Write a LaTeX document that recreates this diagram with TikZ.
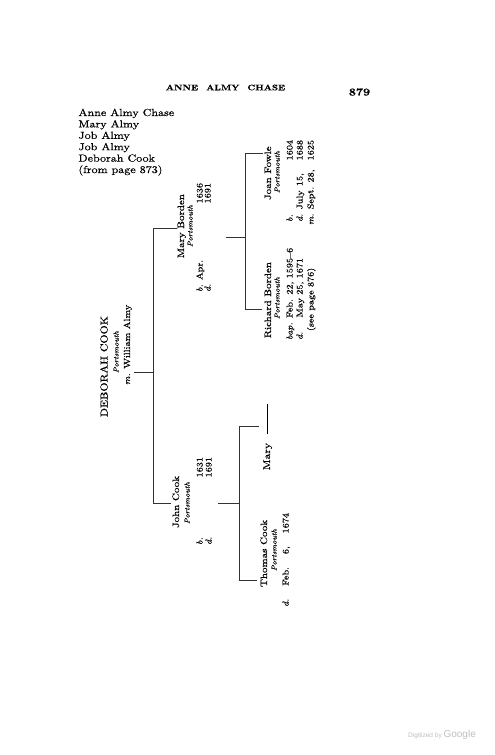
\documentclass[tikz,border=0pt]{standalone}
\usepackage{fontspec}
\setmainfont{lmroman10-regular.otf}[BoldFont=lmroman10-bold.otf, ItalicFont=lmroman10-italic.otf, FakeStretch=1.18, FakeBold=0.5]
\newfontfamily\gfont{Liberation Sans}
\begin{document}
\begin{tikzpicture}[x=1pt,y=-1pt,
  ln/.style={line width=0.65pt, draw=black!80},
  rt/.style={rotate=90, inner sep=0pt, outer sep=0pt, anchor=base west},
  nm/.style={rt, font=\fontsize{9.3}{11}\selectfont},
  pl/.style={rt, font=\fontsize{7}{8}\selectfont\itshape},
  dt/.style={rt, font=\fontsize{8.6}{10}\selectfont},
]
\useasboundingbox[fill=white] (0,0) rectangle (495,755);

% header
\node[font=\fontsize{8}{9}\selectfont\bfseries, inner sep=0] (hdr) at (225.5,87.5) {ANNE\hspace{8pt}ALMY\hspace{8pt}CHASE};
\node[font=\fontsize{10.5}{12}\selectfont\bfseries, inner sep=0] (pg) at (359.5,92) {879};

% list
\node[anchor=north west, inner sep=0, align=left, font=\fontsize{10.2}{11.4}\selectfont] (lst) at (78.3,108.5)
  {Anne Almy Chase\\Mary Almy\\Job Almy\\Job Almy\\Deborah Cook\\(from page 873)};

% Deborah Cook
\node[rt, font=\fontsize{10}{12}\selectfont] (deb) at (107.5,417) {DEBORAH COOK};
\node[pl] (debp) at (118.5,373) {Portsmouth};
\node[rt, font=\fontsize{8.8}{11}\selectfont] (debm) at (130,385) {\textit{m.} William Almy};

% Mary Borden
\node[nm] (mb) at (184,258) {Mary Borden};
\node[pl] (mbp) at (192.5,247) {Portsmouth};
\node[dt] (mbb) at (202.5,292) {\hbox to 109pt{\textit{b.}\enspace Apr.\hfil 1636}};
\node[dt] (mbd) at (210.5,292) {\hbox to 109pt{\textit{d.}\hfil 1691}};

% John Cook
\node[nm] (jc) at (179,528) {John Cook};
\node[pl] (jcp) at (189.5,524) {Portsmouth};
\node[dt] (jcb) at (202.5,545) {\hbox to 88pt{\textit{b.}\hfil 1631}};
\node[dt] (jcd) at (211.5,545) {\hbox to 88pt{\textit{d.}\hfil 1691}};

% Joan Fowle
\node[nm] (jf) at (271,200) {Joan Fowle};
\node[pl] (jfp) at (279.5,193) {Portsmouth};
\node[dt] (jfb) at (292.5,222) {\hbox to 82pt{\textit{b.}\hfil 1604}};
\node[dt] (jfd) at (302.5,222) {\hbox to 82pt{\textit{d.}\enspace July\enspace 15,\hfil 1688}};
\node[dt] (jfm) at (313.5,225) {\hbox to 85pt{\textit{m.}\enspace Sept.\enspace 28,\hfil 1625}};

% Richard Borden
\node[nm] (rb) at (271,338) {Richard Borden};
\node[pl] (rbp) at (279.5,319) {Portsmouth};
\node[dt] (rbb) at (292.5,340) {\textit{bap.} Feb. 22, 1595–6};
\node[dt] (rbd) at (302.5,340) {\hbox to 82pt{\textit{d.}\hfil May 25, 1671}};
\node[dt] (rbs) at (313.5,331) {(see page 876)};

% Thomas Cook
\node[nm] (tc) at (267,587) {Thomas Cook};
\node[pl] (tcp) at (276.5,571) {Portsmouth};
\node[dt] (tcd) at (288.5,607) {\hbox to 94pt{\textit{d.}\hfil Feb.\hfil 6,\hfil 1674}};

% Mary
\node[rt, font=\fontsize{9.8}{11}\selectfont] (my) at (270,470) {Mary\hspace{9pt}\rule[2.6pt]{30pt}{0.65pt}};

% watermark
\node[font=\gfont\fontsize{6.5}{8}\selectfont, text=black!25, inner sep=0] (wm) at (442,735) {Digitized by {\fontsize{10}{10}\selectfont Google}};

% connector coordinates
\coordinate (debR) at (134,372);
\coordinate (aTop) at (153,228);
\coordinate (aBot) at (153,503);
\coordinate (mbL) at (177,228);
\coordinate (jcL) at (171,503);
\coordinate (mbR) at (226,237);
\coordinate (bTop) at (245,153);
\coordinate (bBot) at (245,309);
\coordinate (jfL) at (263,153);
\coordinate (rbL) at (262,309);
\coordinate (jcR) at (218,503);
\coordinate (cTop) at (239,426);
\coordinate (cBot) at (239,580);
\coordinate (myL) at (259,426);
\coordinate (tcL) at (257,580);

\draw[ln] (debR) -- (debR -| aTop);
\draw[ln] (mbL) -- (aTop) -- (aBot) -- (jcL);
\draw[ln] (mbR) -- (mbR -| bTop);
\draw[ln] (jfL) -- (bTop) -- (bBot) -- (rbL);
\draw[ln] (jcR) -- (jcR -| cTop);
\draw[ln] (myL) -- (cTop) -- (cBot) -- (tcL);
\end{tikzpicture}
\end{document}
